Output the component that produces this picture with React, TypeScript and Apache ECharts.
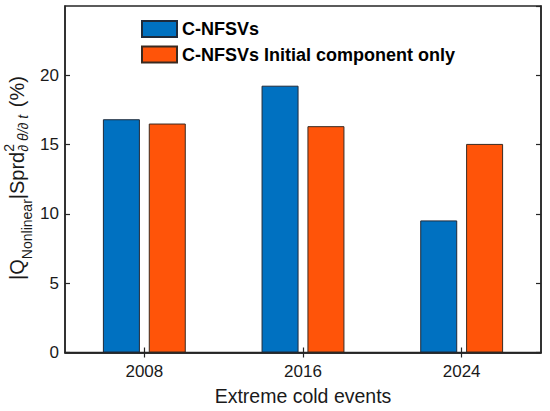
import React, { useEffect, useRef } from "react";
import * as echarts from "echarts";

const categories = ["2008", "2016", "2024"];
const seriesNames = ["C-NFSVs", "C-NFSVs Initial component only"];
const cnfsvs = [16.83, 19.25, 9.53];
const initialOnly = [16.52, 16.33, 15.05];
const yTicks = { min: 0, max: 25, interval: 5 };
const xTitle = "Extreme cold events";

const FONT = "'Liberation Sans', Arial, sans-serif";
const INK = "#1a1a1a";

function measure(text: string, size: number, style = "normal"): number {
  const c = document.createElement("canvas").getContext("2d");
  if (!c) return text.length * size * 0.55;
  c.font = `${style} ${size}px 'Liberation Sans', Arial, sans-serif`;
  return c.measureText(text).width;
}

function buildYLabel() {
  const M = 20;
  const S = 14;
  const pieces: { text: string; size: number; shift: number; style?: string; advance: boolean; pad?: number }[] = [
    { text: "|Q", size: M, shift: 0, advance: true },
    { text: "Nonlinear", size: S, shift: 8, advance: true },
    { text: "|Sprd", size: M, shift: 0, advance: true },
    { text: "2", size: S, shift: -10, advance: false },
    { text: "\u2202 \u03b8/\u2202 t", size: S, shift: 4, style: "italic", advance: true, pad: 2 },
    { text: " (%)", size: M, shift: 0, advance: true },
  ];
  let cursor = 0;
  const children: any[] = [];
  for (const p of pieces) {
    const w = measure(p.text, p.size, p.style || "normal");
    children.push({
      type: "text",
      x: cursor,
      y: p.shift - 0.35 * p.size,
      style: {
        text: p.text,
        font: `${p.style || "normal"} ${p.size}px ${FONT}`,
        fill: INK,
        align: "left",
        verticalAlign: "middle",
      },
    });
    if (p.advance) cursor += w + (p.pad || 0);
  }
  const total = cursor;
  return {
    type: "group",
    x: 23.5,
    y: 178 + total / 2,
    rotation: Math.PI / 2,
    children,
  };
}

export default function App() {
  const ref = useRef<HTMLDivElement>(null);
  useEffect(() => {
    document.body.style.margin = "0";
    if (!ref.current) return;
    const chart = echarts.init(ref.current, undefined, { renderer: "svg" });
    const axisLine = { show: true, lineStyle: { color: "#262626", width: 1.5 } };
    const tick = { show: true, inside: true, length: 5, lineStyle: { color: "#262626", width: 1.2 } };
    chart.setOption({
      animation: false,
      backgroundColor: "#ffffff",
      textStyle: { fontFamily: FONT },
      grid: {
        left: 65,
        right: 9,
        top: 6,
        bottom: 54,
        show: true,
        borderColor: "#262626",
        borderWidth: 1.5,
        backgroundColor: "transparent",
      },
      legend: {
        orient: "vertical",
        left: 141,
        top: 20,
        padding: 0,
        itemWidth: 35,
        itemHeight: 16,
        itemGap: 7.5,
        icon: "rect",
        data: seriesNames,
        textStyle: { fontFamily: FONT, fontSize: 18, fontWeight: "bold", color: "#000" },
      },
      xAxis: [
        {
          type: "category",
          data: categories,
          position: "bottom",
          boundaryGap: true,
          axisLine,
          axisTick: { ...tick, alignWithLabel: true },
          axisLabel: { fontFamily: FONT, fontSize: 17, color: INK, margin: 10.5 },
          name: xTitle,
          nameLocation: "middle",
          nameGap: 33.5,
          nameTextStyle: { fontFamily: FONT, fontSize: 19.5, color: INK },
          splitLine: { show: false },
        },
        {
          type: "category",
          data: categories,
          position: "top",
          boundaryGap: true,
          axisLine,
          axisTick: { ...tick, alignWithLabel: true },
          axisLabel: { show: false },
          splitLine: { show: false },
        },
      ],
      yAxis: [
        {
          type: "value",
          min: yTicks.min,
          max: yTicks.max,
          interval: yTicks.interval,
          position: "left",
          axisLine,
          axisTick: tick,
          axisLabel: { fontFamily: FONT, fontSize: 17, color: INK, margin: 6, showMaxLabel: false },
          splitLine: { show: false },
        },
        {
          type: "value",
          min: yTicks.min,
          max: yTicks.max,
          interval: yTicks.interval,
          position: "right",
          axisLine,
          axisTick: tick,
          axisLabel: { show: false },
          splitLine: { show: false },
        },
      ],
      series: [
        {
          name: seriesNames[0],
          type: "bar",
          data: cnfsvs,
          barWidth: 37,
          barGap: "24%",
          itemStyle: { color: "#0071C1", borderColor: "#1f2a3a", borderWidth: 1 },
        },
        {
          name: seriesNames[1],
          type: "bar",
          data: initialOnly,
          barWidth: 37,
          barGap: "24%",
          itemStyle: { color: "#FF5409", borderColor: "#3a2a20", borderWidth: 1 },
        },
      ],
      graphic: [buildYLabel()],
    });
    return () => chart.dispose();
  }, []);
  return <div ref={ref} style={{ width: 550, height: 411 }} />;
}
